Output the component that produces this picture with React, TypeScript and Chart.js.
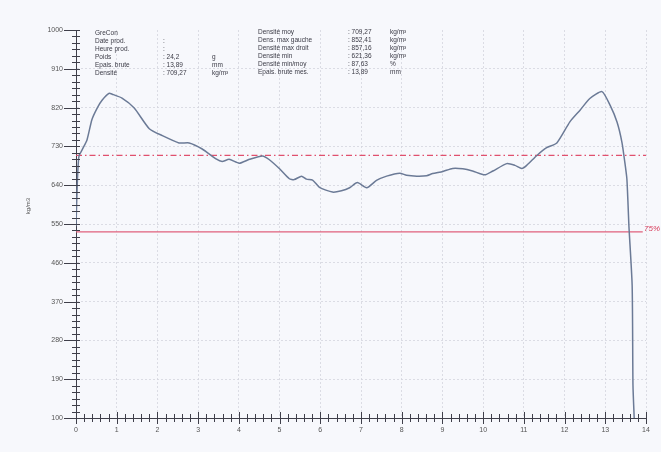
import React, { useEffect, useRef } from "react";
import { Chart, registerables } from "chart.js";
Chart.register(...registerables);

const thicknessMm = [0, 0.03, 0.07, 0.15, 0.27, 0.39, 0.52, 0.64, 0.81, 0.89, 1.13, 1.43, 1.8, 2.12, 2.53, 2.78, 3.1, 3.44, 3.59, 3.76, 4.01, 4.26, 4.58, 4.75, 5.0, 5.24, 5.36, 5.54, 5.66, 5.81, 5.98, 6.3, 6.52, 6.72, 6.91, 7.14, 7.38, 7.63, 7.95, 8.12, 8.37, 8.61, 8.76, 9.01, 9.25, 9.5, 9.74, 10.04, 10.24, 10.58, 10.78, 10.95, 11.07, 11.32, 11.56, 11.81, 12.13, 12.38, 12.62, 12.92, 13.12, 13.29, 13.41, 13.48, 13.53, 13.56, 13.58, 13.66, 13.68, 13.71];
const densityKgM3 = [545, 640, 706, 722, 745, 792, 819, 837, 853, 851, 842, 819, 771, 755, 738, 738, 724, 701, 695, 700, 691, 700, 708, 699, 678, 655, 653, 661, 654, 652, 635, 624, 627, 634, 646, 634, 651, 661, 668, 663, 661, 662, 667, 672, 679, 678, 673, 664, 673, 690, 686, 679, 686, 709, 727, 738, 787, 814, 841, 857, 825, 786, 739, 693, 655, 593, 546, 407, 176, 100];

const xTickLabels = [0, 1, 2, 3, 4, 5, 6, 7, 8, 9, 10, 11, 12, 13, 14];
const yTickLabels = [100, 190, 280, 370, 460, 550, 640, 730, 820, 910, 1000];
const meanDensity = 709.27;
const thresholdRatio = 0.75;
const thresholdLabel = "75%";
const yAxisTitle = "kg/m3";

const infoLeftLabels = ["GreCon", "Date prod.", "Heure prod.", "Poids", "Epais. brute", "Densité"];
const infoLeftValues = ["", ":", ":", ": 24,2", ": 13,89", ": 709,27"];
const infoLeftUnits = ["", "", "", "g", "mm", "kg/m³"];
const infoRightLabels = ["Densité moy", "Dens. max gauche", "Densité max droit", "Densité min", "Densité min/moy", "Epais. brute mes."];
const infoRightValues = [": 709,27", ": 852,41", ": 857,16", ": 621,36", ": 87,63", ": 13,89"];
const infoRightUnits = ["kg/m³", "kg/m³", "kg/m³", "kg/m³", "%", "mm"];

const FONT = "'Liberation Sans', Arial, sans-serif";

const decor = {
  id: "decor",
  beforeDraw(chart: any) {
    const { ctx, width, height } = chart;
    ctx.save();
    ctx.fillStyle = "#f7f8fc";
    ctx.fillRect(0, 0, width, height);
    ctx.restore();
  },
  afterDraw(chart: any) {
    const { ctx, chartArea } = chart;
    const x = chart.scales.x;
    const y = chart.scales.y;
    const left = chartArea.left;
    const bottom = chartArea.bottom;
    ctx.save();
    ctx.strokeStyle = "#3f3f4a";
    ctx.lineWidth = 1;
    const yStep = (yTickLabels[1] - yTickLabels[0]) / 6;
    const y0 = yTickLabels[0];
    const y1 = yTickLabels[yTickLabels.length - 1];
    for (let i = 0; y0 + i * yStep <= y1 + 0.001; i++) {
      const v = y0 + i * yStep;
      const py = Math.round(y.getPixelForValue(v)) + 0.5;
      ctx.beginPath();
      if (i % 6 === 0) {
        ctx.moveTo(left - 12, py);
        ctx.lineTo(left + 4, py);
      } else {
        ctx.moveTo(left - 4, py);
        ctx.lineTo(left + 4, py);
      }
      ctx.stroke();
    }
    const xStep = (xTickLabels[1] - xTickLabels[0]) / 5;
    const x0 = xTickLabels[0];
    const x1 = xTickLabels[xTickLabels.length - 1];
    for (let i = 0; x0 + i * xStep <= x1 + 0.001; i++) {
      const v = x0 + i * xStep;
      const px = Math.round(x.getPixelForValue(v)) + 0.5;
      ctx.beginPath();
      if (i % 5 === 0) {
        ctx.moveTo(px, bottom - 6);
        ctx.lineTo(px, bottom + 6);
      } else {
        ctx.moveTo(px, bottom - 4);
        ctx.lineTo(px, bottom + 4);
      }
      ctx.stroke();
    }
    ctx.fillStyle = "#555";
    ctx.font = "6px " + FONT;
    ctx.save();
    ctx.translate(28, 206);
    ctx.rotate(-Math.PI / 2);
    ctx.textAlign = "center";
    ctx.textBaseline = "middle";
    ctx.fillText(yAxisTitle, 0, 0);
    ctx.restore();
    ctx.textAlign = "left";
    ctx.textBaseline = "middle";
    ctx.fillStyle = "#3a3a45";
    ctx.font = "6.5px " + FONT;
    for (let i = 0; i < infoLeftLabels.length; i++) {
      const ty = 33 + i * 8;
      ctx.fillText(infoLeftLabels[i], 95, ty);
      ctx.fillText(infoLeftValues[i], 163, ty);
      ctx.fillText(infoLeftUnits[i], 212, ty);
    }
    for (let i = 0; i < infoRightLabels.length; i++) {
      const ty = 32 + i * 8;
      ctx.fillText(infoRightLabels[i], 258, ty);
      ctx.fillText(infoRightValues[i], 348, ty);
      ctx.fillText(infoRightUnits[i], 390, ty);
    }
    const thr = meanDensity * thresholdRatio;
    ctx.fillStyle = "#d9405e";
    ctx.font = "italic 8px " + FONT;
    ctx.textAlign = "left";
    ctx.fillText(thresholdLabel, chartArea.right - 2, y.getPixelForValue(thr) - 3);
    ctx.restore();
  },
};

export default function App() {
  const ref = useRef<HTMLCanvasElement | null>(null);
  useEffect(() => {
    document.body.style.margin = "0";
    document.body.style.background = "#f7f8fc";
    if (!ref.current) return;
    const thr = meanDensity * thresholdRatio;
    const xMin = xTickLabels[0];
    const xMax = xTickLabels[xTickLabels.length - 1];
    const chart = new Chart(ref.current, {
      type: "line",
      data: {
        datasets: [
          {
            label: "profile",
            data: thicknessMm.map((t, i) => ({ x: t, y: densityKgM3[i] })),
            borderColor: "#6b7a96",
            borderWidth: 1.5,
            pointRadius: 0,
            tension: 0.2,
            fill: false,
          },
          {
            label: "mean",
            data: [
              { x: xMin, y: meanDensity },
              { x: xMax, y: meanDensity },
            ],
            borderColor: "#e0506e",
            borderWidth: 1.1,
            borderDash: [6, 3, 1.5, 3],
            pointRadius: 0,
            fill: false,
          },
          {
            label: "threshold",
            data: [
              { x: xMin, y: thr },
              { x: xMax - 0.08, y: thr },
            ],
            borderColor: "#e0607c",
            borderWidth: 1.2,
            pointRadius: 0,
            fill: false,
          },
        ],
      },
      options: {
        animation: false,
        responsive: false,
        maintainAspectRatio: false,
        layout: { padding: { left: 0, right: 15, top: 30, bottom: 0 } },
        plugins: { legend: { display: false }, tooltip: { enabled: false } },
        scales: {
          x: {
            type: "linear",
            min: xMin,
            max: xMax,
            afterBuildTicks: (s: any) => {
              s.ticks = xTickLabels.map((v) => ({ value: v }));
            },
            afterFit: (s: any) => {
              s.height = 34;
            },
            ticks: {
              autoSkip: false,
              maxRotation: 0,
              padding: 8,
              color: "#555",
              font: { size: 7, family: FONT },
              callback: (v: any) => String(v),
            },
            grid: {
              drawTicks: false,
              color: (c: any) => (c.tick && c.tick.value === xMin ? "rgba(0,0,0,0)" : "#d3d5de"),
              lineWidth: 0.8,
            },
            border: { display: true, color: "#3f3f4a", width: 1, dash: [2, 2] },
          },
          y: {
            type: "linear",
            min: yTickLabels[0],
            max: yTickLabels[yTickLabels.length - 1],
            afterBuildTicks: (s: any) => {
              s.ticks = yTickLabels.map((v) => ({ value: v }));
            },
            afterFit: (s: any) => {
              s.width = 76;
            },
            ticks: {
              autoSkip: false,
              padding: 13,
              color: "#555",
              font: { size: 7, family: FONT },
              callback: (v: any) => String(v),
            },
            grid: {
              drawTicks: false,
              color: (c: any) =>
                c.tick && (c.tick.value === yTickLabels[0] || c.tick.value === yTickLabels[yTickLabels.length - 1])
                  ? "rgba(0,0,0,0)"
                  : "#d3d5de",
              lineWidth: 0.8,
            },
            border: { display: true, color: "#3f3f4a", width: 1, dash: [2, 2] },
          },
        },
      },
      plugins: [decor],
    } as any);
    return () => chart.destroy();
  }, []);
  return (
    <div style={{ width: 661, height: 452 }}>
      <canvas ref={ref} width={661} height={452} style={{ display: "block" }} />
    </div>
  );
}
